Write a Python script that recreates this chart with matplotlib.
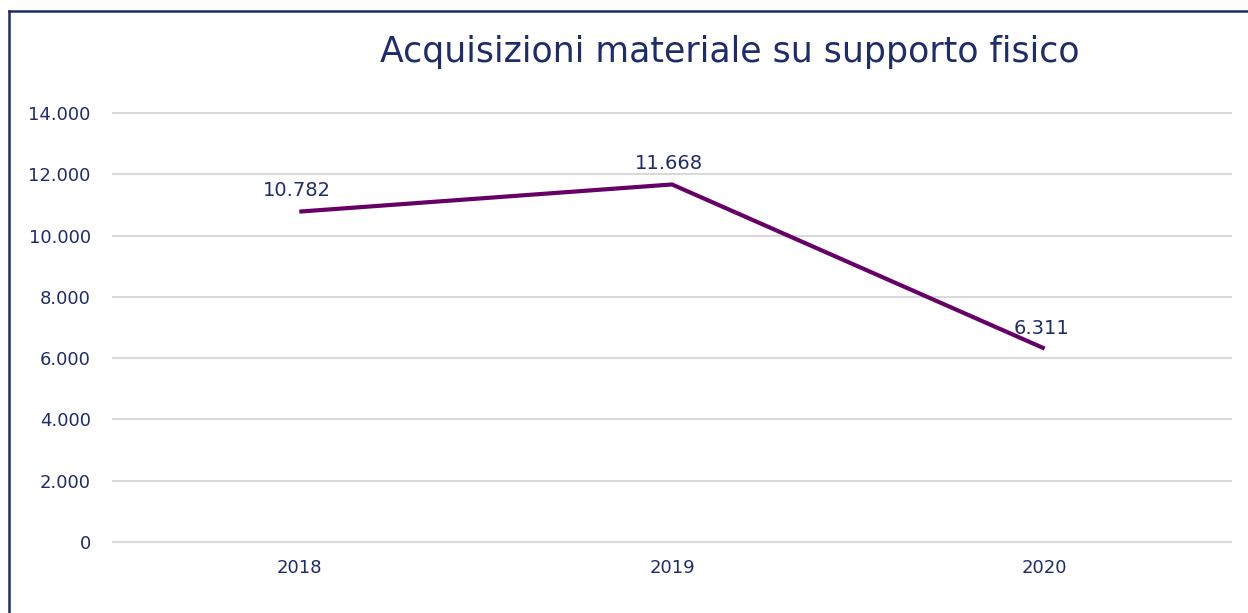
import matplotlib
matplotlib.use("Agg")
import matplotlib.pyplot as plt
from matplotlib.lines import Line2D
from matplotlib.ticker import FuncFormatter

years = ["2018", "2019", "2020"]
values = [10782, 11668, 6311]
value_labels = ["10.782", "11.668", "6.311"]
yticks = [0, 2000, 4000, 6000, 8000, 10000, 12000, 14000]

navy = "#1F2C6B"
purple = "#660066"
grid = "#D9D9D9"

plt.rcParams['font.family'] = ['DejaVu Sans']

W, H = 1248, 613
fig = plt.figure(figsize=(W / 100, H / 100), dpi=100)
ax = fig.add_axes([113 / W, 1 - 542 / H, (1231 - 113) / W, (542 - 113) / H])

x = list(range(len(years)))
ax.plot(x, values, color=purple, linewidth=3, solid_capstyle='butt', zorder=3)
for xi, v, lab in zip(x, values, value_labels):
    ax.annotate(lab, (xi, v), xytext=(-2, 8), textcoords='offset points',
                ha='center', va='bottom', fontsize=14, color=navy)

ax.set_xlim(-0.5, len(years) - 0.5)
ax.set_ylim(0, 14000)
ax.set_yticks(yticks)
ax.yaxis.set_major_formatter(FuncFormatter(lambda v, p: f"{int(v):,}".replace(",", ".")))
ax.set_xticks(x)
ax.set_xticklabels(years)
ax.grid(axis='y', color=grid, linewidth=1.5)
for gl in ax.get_ygridlines():
    gl.set_clip_on(False)
ax.set_axisbelow(True)
for s in ax.spines.values():
    s.set_visible(False)
ax.tick_params(axis='both', length=0, labelsize=13, colors=navy)
ax.tick_params(axis='y', pad=16)
ax.tick_params(axis='x', pad=12)

fig.text(730 / W, 1 - 52 / H, "Acquisizioni materiale su supporto fisico",
         ha='center', va='center', fontsize=25, color=navy)

# partial border (left and top)
fig.add_artist(Line2D([9 / W, 9 / W], [0, 1 - 11 / H], transform=fig.transFigure,
                      color=navy, linewidth=1.8))
fig.add_artist(Line2D([9 / W, 1], [1 - 11 / H, 1 - 11 / H], transform=fig.transFigure,
                      color=navy, linewidth=1.8))

fig.savefig("out.png", dpi=100)
